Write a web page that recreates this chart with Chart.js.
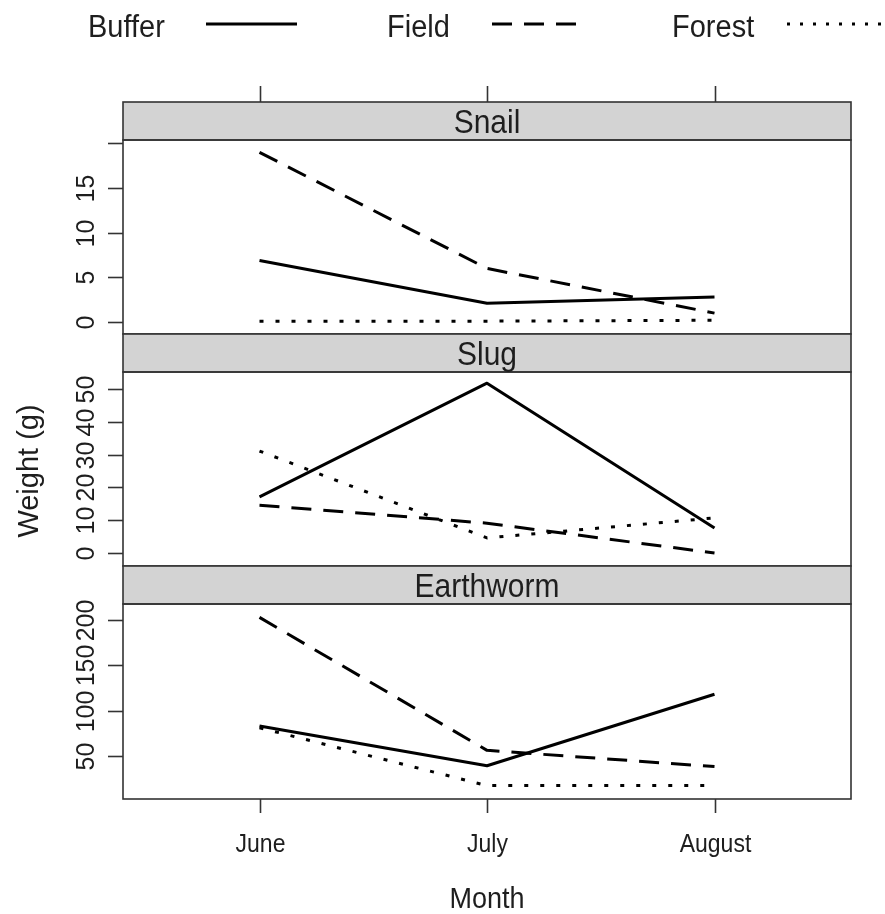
<!DOCTYPE html>
<html>
<head>
<meta charset="utf-8">
<title>Weight by month</title>
<script src="https://cdn.jsdelivr.net/npm/chart.js@4.4.1/dist/chart.umd.min.js"></script>
<style>
  body { margin: 0; background: #fff; }
  #wrap { position: relative; width: 885px; height: 914px; background: #fff; }
  #wrap canvas { position: absolute; left: 0; top: 0; }
</style>
</head>
<body>
<div id="wrap">
  <canvas id="c0" width="885" height="914"></canvas>
  <canvas id="c1" width="885" height="914"></canvas>
  <canvas id="c2" width="885" height="914"></canvas>
</div>
<script>
// data
const months = ["June", "July", "August"];
const seriesNames = ["Buffer", "Field", "Forest"];
const panelNames = ["Snail", "Slug", "Earthworm"];

const bufferSnail = [6.9, 2.1, 2.8];
const fieldSnail = [19, 6, 1.0];
const forestSnail = [0.1, 0.1, 0.2];

const bufferSlug = [17.1, 51.8, 7.6];
const fieldSlug = [14.6, 9.1, 0];
const forestSlug = [31.1, 4.6, 10.7];

const bufferWorm = [83, 39, 118];
const fieldWorm = [203, 56, 38];
const forestWorm = [81, 17, 17];

const snailTicks = [0, 5, 10, 15, 20];
const snailTickLabels = ["0", "5", "10", "15", ""];
const slugTicks = [0, 10, 20, 30, 40, 50];
const slugTickLabels = ["0", "10", "20", "30", "40", "50"];
const wormTicks = [50, 100, 150, 200];
const wormTickLabels = ["50", "100", "150", "200"];

const snailRange = [-1.34, 20.38];
const slugRange = [-3.96, 55.2];
const wormRange = [2.2, 217.8];

// look
const W = 885, H = 914;
const plotLeft = 123, plotRight = 851;
const stripH = 38;
const edge = "#333";
const stripFill = "#d3d3d3";
const ink = "#1e1e1e";
const font = "'Liberation Sans', Arial, sans-serif";
const dashes = [[], [20, 12], [4, 12]];
const tall = 1.1; // the picture's text is a bit taller than wide

const panels = [
  { name: panelNames[0], top: 140, bottom: 334, series: [bufferSnail, fieldSnail, forestSnail],
    range: snailRange, ticks: snailTicks, labels: snailTickLabels, first: true },
  { name: panelNames[1], top: 372, bottom: 566, series: [bufferSlug, fieldSlug, forestSlug],
    range: slugRange, ticks: slugTicks, labels: slugTickLabels },
  { name: panelNames[2], top: 604, bottom: 799, series: [bufferWorm, fieldWorm, forestWorm],
    range: wormRange, ticks: wormTicks, labels: wormTickLabels, last: true }
];

// text drawn a little stretched upward, like the reference
function tallText(ctx, txt, x, y) {
  ctx.save();
  ctx.translate(x, y);
  ctx.scale(1, tall);
  ctx.fillText(txt, 0, 0);
  ctx.restore();
}

function drawLegend(ctx) {
  const items = [
    { text: 88, x1: 206, x2: 297 },
    { text: 387, x1: 492, x2: 582 },
    { text: 672, x1: 787, x2: 885 }
  ];
  ctx.font = "29px " + font;
  ctx.fillStyle = ink;
  ctx.textAlign = "left";
  ctx.textBaseline = "alphabetic";
  items.forEach(function (it, i) {
    tallText(ctx, seriesNames[i], it.text, 37);
    ctx.beginPath();
    ctx.strokeStyle = "#000";
    ctx.lineWidth = 3;
    ctx.setLineDash(i == 2 ? [3, 10] : dashes[i]);
    ctx.moveTo(it.x1, 24);
    ctx.lineTo(it.x2, 24);
    ctx.stroke();
  });
  ctx.setLineDash([]);
}

const panelDeco = {
  id: "panelDeco",
  afterDraw(chart, args, o) {
    const p = o.panel;
    const ctx = chart.ctx;
    const a = chart.chartArea;
    const xs = chart.scales.x, ys = chart.scales.y;
    ctx.save();
    ctx.setLineDash([]);

    // strip
    ctx.fillStyle = stripFill;
    ctx.fillRect(a.left, a.top - stripH, a.right - a.left, stripH);
    ctx.strokeStyle = edge;
    ctx.lineWidth = 1.6;
    ctx.strokeRect(a.left, a.top - stripH, a.right - a.left, stripH);
    ctx.strokeRect(a.left, a.top, a.right - a.left, a.bottom - a.top);
    ctx.fillStyle = ink;
    ctx.font = "30px " + font;
    ctx.textAlign = "center";
    ctx.textBaseline = "alphabetic";
    tallText(ctx, p.name, (a.left + a.right) / 2, a.top - 7);

    // y ticks and rotated labels
    ctx.font = "25px " + font;
    p.ticks.forEach(function (v, i) {
      const py = Math.round(ys.getPixelForValue(v)) + 0.5;
      ctx.beginPath();
      ctx.moveTo(a.left - 15, py);
      ctx.lineTo(a.left, py);
      ctx.stroke();
      ctx.save();
      ctx.translate(94, py);
      ctx.rotate(-Math.PI / 2);
      ctx.fillText(p.labels[i], 0, 0);
      ctx.restore();
    });

    // x ticks on top of the first strip, below the last panel
    ctx.font = "23px " + font;
    months.forEach(function (m, i) {
      const px = Math.round(xs.getPixelForValue(i)) + 0.5;
      if (p.first) {
        ctx.beginPath();
        ctx.moveTo(px, a.top - stripH);
        ctx.lineTo(px, a.top - stripH - 16);
        ctx.stroke();
      }
      if (p.last) {
        ctx.beginPath();
        ctx.moveTo(px, a.bottom);
        ctx.lineTo(px, a.bottom + 14);
        ctx.stroke();
        ctx.textAlign = "center";
        tallText(ctx, m, px, 852);
      }
    });

    if (p.first) {
      drawLegend(ctx);
      ctx.fillStyle = ink;
      ctx.font = "29px " + font;
      ctx.textAlign = "center";
      ctx.save();
      ctx.translate(38, 471);
      ctx.rotate(-Math.PI / 2);
      ctx.fillText("Weight (g)", 0, 0);
      ctx.restore();
    }
    if (p.last) {
      ctx.font = "27px " + font;
      ctx.textAlign = "center";
      tallText(ctx, "Month", (a.left + a.right) / 2, 908);
    }
    ctx.restore();
  }
};

panels.forEach(function (p, k) {
  const datasets = p.series.map(function (vals, i) {
    return {
      label: seriesNames[i],
      data: vals.map(function (v, j) { return { x: j, y: v }; }),
      borderColor: "#000",
      borderWidth: 3,
      borderDash: dashes[i],
      borderCapStyle: "butt",
      borderJoinStyle: "round",
      pointRadius: 0,
      tension: 0,
      fill: false
    };
  });
  new Chart(document.getElementById("c" + k), {
    type: "line",
    data: { datasets: datasets },
    options: {
      responsive: false,
      animation: false,
      events: [],
      layout: { padding: { left: plotLeft, right: W - plotRight, top: p.top, bottom: H - p.bottom } },
      scales: {
        x: { type: "linear", min: -0.6, max: 2.6, display: false },
        y: { type: "linear", min: p.range[0], max: p.range[1], display: false }
      },
      plugins: {
        legend: { display: false },
        tooltip: { enabled: false },
        panelDeco: { panel: p }
      }
    },
    plugins: [panelDeco]
  });
});
</script>
</body>
</html>
